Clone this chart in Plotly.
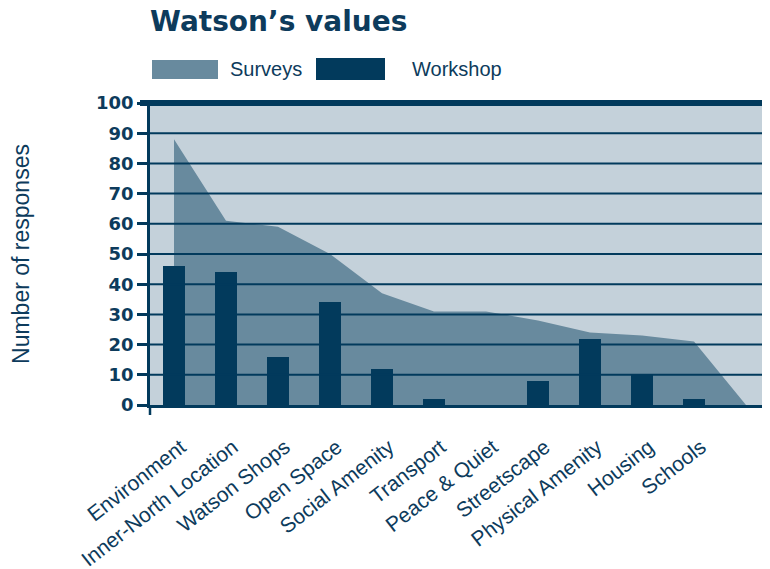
import plotly.graph_objects as go

# Values
categories = ["Environment", "Inner-North Location", "Watson Shops", "Open Space",
              "Social Amenity", "Transport", "Peace & Quiet", "Streetscape",
              "Physical Amenity", "Housing", "Schools"]
surveys = [88, 61, 59, 50, 37, 31, 31, 28, 24, 23, 21]
workshop = [46, 44, 16, 34, 12, 2, 0, 8, 22, 10, 2]
y_ticks = [0, 10, 20, 30, 40, 50, 60, 70, 80, 90, 100]

NAVY = "#023a5c"
TEXT = "#0d3b5c"
SURVEY_COL = "#688a9e"
BG = "#c4d1da"

# page body adds an 8px offset, so layout is pulled back by that much
OFF = 8
W, H = 770, 569
PLOT_L, PLOT_T, PLOT_B = 150 - OFF, 103 - OFF, 405 - OFF
PW, PH = W - PLOT_L, PLOT_B - PLOT_T

x_pos = list(range(len(categories)))
# 52px per category; the last 8px of the plot fall outside the window
SLOT = 52.0
x_range = [-24 / SLOT, -24 / SLOT + PW / SLOT]


def py(win_y):
    # window y pixel -> paper y
    return (PLOT_B - (win_y - OFF)) / PH


fig = go.Figure()

# surveys drawn as an area that drops to zero one slot after the last category
fig.add_trace(go.Scatter(
    x=x_pos + [len(categories)],
    y=surveys + [0],
    mode="none",
    fill="tozeroy",
    fillcolor=SURVEY_COL,
    name="Surveys",
    showlegend=False,
))

# bars go on an overlaid axis so they sit on top of the area
fig.add_trace(go.Bar(
    x=x_pos,
    y=workshop,
    width=0.44,
    marker=dict(color=NAVY, line=dict(width=0)),
    name="Workshop",
    showlegend=False,
    xaxis="x2",
))

# grid lines sit above the survey area
shapes = []
for v in y_ticks[1:-1]:
    shapes.append(dict(type="line", xref="paper", yref="y", x0=0, x1=1, y0=v, y1=v,
                       line=dict(color=NAVY, width=2), layer="above"))
# heavy top rule and axis stub below zero
shapes.append(dict(type="line", xref="paper", yref="paper", x0=-10 / PW, x1=1, y0=1, y1=1,
                   line=dict(color=NAVY, width=6), layer="above"))
shapes.append(dict(type="line", xref="paper", yref="paper", x0=0, x1=0, y0=0, y1=-10 / PH,
                   line=dict(color=NAVY, width=2.5), layer="above"))

# hand-made legend
shapes.append(dict(type="rect", xref="paper", yref="paper",
                   x0=2 / PW, x1=68 / PW, y0=py(79), y1=py(60),
                   fillcolor=SURVEY_COL, line=dict(width=0)))
shapes.append(dict(type="rect", xref="paper", yref="paper",
                   x0=166 / PW, x1=235 / PW, y0=py(80), y1=py(58),
                   fillcolor=NAVY, line=dict(width=0)))

annotations = [
    dict(text="Surveys", xref="paper", yref="paper", x=78 / PW, y=py(69),
         xanchor="left", yanchor="middle", showarrow=False,
         font=dict(family="Liberation Sans", size=20, color=TEXT)),
    dict(text="Workshop", xref="paper", yref="paper", x=260 / PW, y=py(69),
         xanchor="left", yanchor="middle", showarrow=False,
         font=dict(family="Liberation Sans", size=20, color=TEXT)),
]

fig.update_layout(
    width=W,
    height=H,
    margin=dict(l=PLOT_L, r=0, t=PLOT_T, b=H - PLOT_B, autoexpand=False),
    paper_bgcolor="white",
    plot_bgcolor=BG,
    title=dict(text="<b>Watson’s values</b>", x=PLOT_L / W, xanchor="left",
               y=1 - (21 - OFF) / H, yanchor="middle",
               font=dict(family="DejaVu Sans", size=28, color=TEXT)),
    shapes=shapes,
    annotations=annotations,
    bargap=0,
    xaxis=dict(
        range=x_range,
        tickmode="array",
        tickvals=x_pos,
        ticktext=categories,
        tickangle=-38,
        ticks="",
        ticklabelstandoff=19,
        ticklabelshift=7,
        showgrid=False,
        zeroline=False,
        showline=True,
        linecolor=NAVY,
        linewidth=2.5,
        automargin=False,
        tickfont=dict(family="Liberation Sans", size=21, color=TEXT),
    ),
    xaxis2=dict(
        range=x_range,
        overlaying="x",
        visible=False,
    ),
    yaxis=dict(
        range=[0, 100],
        tickmode="array",
        tickvals=y_ticks,
        ticks="outside",
        ticklen=10,
        tickwidth=2.5,
        tickcolor=NAVY,
        showgrid=False,
        zeroline=False,
        showline=True,
        linecolor=NAVY,
        linewidth=2.5,
        automargin=False,
        tickfont=dict(family="DejaVu Sans", size=18, color=TEXT, weight="bold"),
        title=dict(text="Number of responses", standoff=62,
                   font=dict(family="Liberation Sans", size=23, color=TEXT)),
    ),
    showlegend=False,
)

fig.write_html("out.html")
